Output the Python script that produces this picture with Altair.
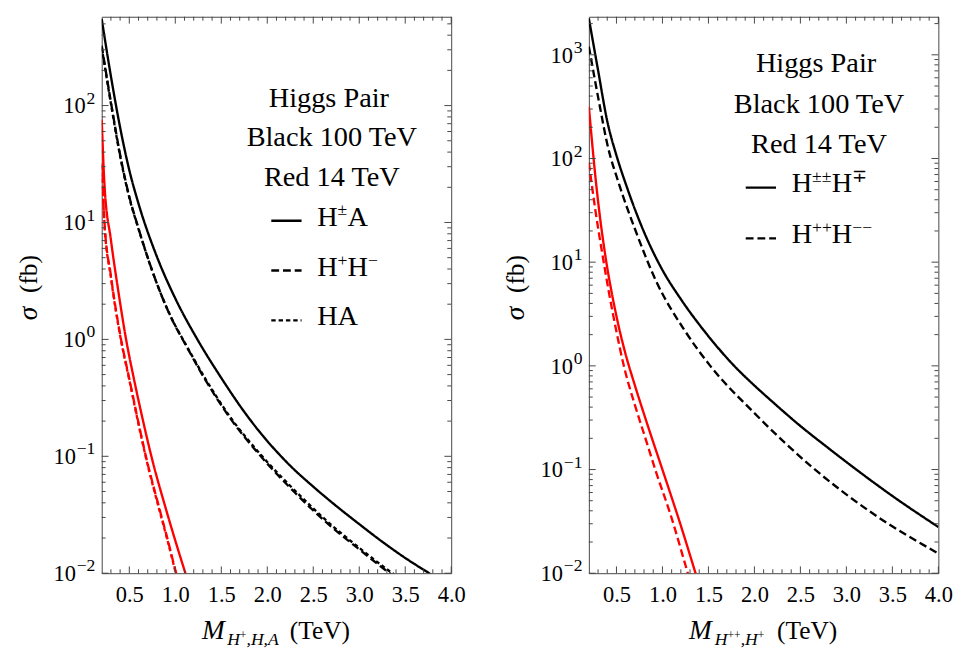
import altair as alt
import pandas as pd

FONT = "Liberation Serif"

# ---------------- data (M in TeV, sigma in fb) ----------------
# Left panel, 100 TeV (black)
L_BLK_HA_PM_M = [0.2, 0.3, 0.4, 0.5, 0.6, 0.8, 1.0, 1.24, 1.5, 1.75, 2.0, 2.12, 2.25, 2.5, 2.75, 3.0, 3.25, 3.5, 3.76, 4.0]
L_BLK_HA_PM_S = [550, 178, 65, 28, 14.5, 5.1, 2.24, 1.0, 0.468, 0.24, 0.135, 0.106, 0.083, 0.055, 0.0376, 0.0263, 0.0186, 0.0135, 0.010, 0.0076]

L_BLK_HPHM_M = [0.2, 0.3, 0.4, 0.5, 0.6, 0.8, 1.0, 1.08, 1.32, 1.6, 1.93, 2.3, 2.67, 3.0, 3.33, 4.0]
L_BLK_HPHM_S = [325, 107, 38, 16.6, 8.9, 3.0, 1.3, 1.0, 0.46, 0.21, 0.10, 0.049, 0.026, 0.016, 0.010, 0.0045]

L_BLK_HA_M = [0.2, 0.3, 0.4, 0.5, 0.6, 0.8, 1.0, 1.08, 1.32, 1.6, 1.93, 2.3, 2.67, 3.0, 3.33, 4.0]
L_BLK_HA_S = [315, 104, 37, 16.3, 8.8, 3.0, 1.31, 1.01, 0.47, 0.215, 0.103, 0.051, 0.027, 0.0165, 0.0104, 0.0047]

# Left panel, 14 TeV (red)
L_RED_HA_PM_M = [0.2, 0.23, 0.3, 0.38, 0.465, 0.55, 0.65, 0.74, 0.9, 1.0, 1.11, 1.2]
L_RED_HA_PM_S = [76, 21, 7.1, 2.6, 1.0, 0.46, 0.20, 0.10, 0.035, 0.019, 0.010, 0.006]

L_RED_HPHM_M = [0.2, 0.23, 0.3, 0.41, 0.5, 0.59, 0.68, 0.83, 0.92, 1.01, 1.1]
L_RED_HPHM_S = [32, 10, 3.5, 1.0, 0.46, 0.21, 0.10, 0.035, 0.019, 0.010, 0.006]

L_RED_HA_M = [0.2, 0.23, 0.3, 0.41, 0.5, 0.59, 0.68, 0.83, 0.92, 1.01, 1.1]
L_RED_HA_S = [31, 9.8, 3.4, 0.98, 0.45, 0.205, 0.098, 0.034, 0.0185, 0.0098, 0.0059]

# Right panel, 100 TeV (black)
R_BLK_PPM_M = [0.2, 0.3, 0.4, 0.5, 0.61, 0.8, 1.0, 1.2, 1.46, 1.78, 2.0, 2.2, 2.5, 2.8, 3.13, 3.5, 4.0]
R_BLK_PPM_S = [2240, 710, 229, 107, 54, 19.5, 8.4, 4.4, 2.14, 1.0, 0.646, 0.447, 0.263, 0.162, 0.0966, 0.0556, 0.0279]

R_BLK_PPMM_M = [0.2, 0.32, 0.4, 0.53, 0.7, 0.93, 1.25, 1.52, 2.0, 2.63, 3.3, 4.0]
R_BLK_PPMM_S = [1200, 316, 138, 56, 21, 6.6, 2.14, 1.0, 0.35, 0.105, 0.037, 0.0155]

# Right panel, 14 TeV (red)
R_RED_PPM_M = [0.2, 0.28, 0.39, 0.45, 0.52, 0.6, 0.7, 0.85, 1.03, 1.2, 1.36, 1.45]
R_RED_PPM_S = [316, 56, 10, 5.0, 2.5, 1.29, 0.65, 0.25, 0.083, 0.0288, 0.010, 0.0055]

R_RED_PPMM_M = [0.2, 0.27, 0.35, 0.42, 0.5, 0.58, 0.7, 0.8, 0.93, 1.1, 1.25, 1.35]
R_RED_PPMM_S = [91, 32, 11.5, 5.0, 2.14, 1.0, 0.42, 0.22, 0.095, 0.034, 0.012, 0.006]

# axis tick values and tick labels
X_MAJOR = [0.5, 1.0, 1.5, 2.0, 2.5, 3.0, 3.5, 4.0]
X_MINOR = [0.3, 0.4, 0.6, 0.7, 0.8, 0.9, 1.1, 1.2, 1.3, 1.4, 1.6, 1.7, 1.8, 1.9,
           2.1, 2.2, 2.3, 2.4, 2.6, 2.7, 2.8, 2.9, 3.1, 3.2, 3.3, 3.4, 3.6, 3.7, 3.8, 3.9]
Y_MAJOR_LEFT = [0.01, 0.1, 1, 10, 100]
Y_EXP_LEFT = ["−2", "−1", "0", "1", "2"]
Y_MAJOR_RIGHT = [0.01, 0.1, 1, 10, 100, 1000]
Y_EXP_RIGHT = ["−2", "−1", "0", "1", "2", "3"]

W, H = 358, 570
TICK_COLOR = "#444"


def curves_df(curves):
    rows = []
    for name, ms, ss, color, dash in curves:
        for m, s in zip(ms, ss):
            rows.append({"M": m, "sigma": s, "series": name, "color": color, "dash": dash})
    return pd.DataFrame(rows)


DUMMY = pd.DataFrame({"a": [0]})


def text(t, x, y, size=29, align="left", style="normal", angle=0):
    kw = dict(text=t, font=FONT, fontSize=size, align=align, baseline="alphabetic",
              fontStyle=style, color="black")
    if angle:
        kw["angle"] = angle
    return alt.Chart(DUMMY).mark_text(**kw).encode(x=alt.value(x), y=alt.value(y))


def sample(x1, x2, y, dash):
    return alt.Chart(DUMMY).mark_rule(color="black", strokeWidth=2.5, strokeDash=dash).encode(
        x=alt.value(x1), x2=alt.value(x2), y=alt.value(y))


def panel(df, y_max, y_major, y_exp, extra):
    xs = alt.Scale(domain=[0.2, 4.0], nice=False, zero=False)
    ys = alt.Scale(type="log", domain=[0.01, y_max], nice=False)
    y_minor = [k * 10.0 ** e for e in range(-2, 4) for k in range(2, 10) if k * 10.0 ** e < y_max]

    lines = alt.Chart(df).mark_line(clip=True, strokeWidth=2.4, interpolate="monotone").encode(
        x=alt.X("M:Q", scale=xs, axis=alt.Axis(
            orient="bottom", values=X_MAJOR, format=".1f", ticks=False, tickSize=0, domain=False,
            grid=False, labelFont=FONT, labelFontSize=23, labelColor="black", labelPadding=11,
            labelFlush=False, labelOverlap=False, title=None)),
        y=alt.Y("sigma:Q", scale=ys, axis=None),
        color=alt.Color("color:N", scale=None),
        strokeDash=alt.StrokeDash("dash:N", scale=alt.Scale(
            domain=["solid", "dashed", "dotted"], range=[[1, 0], [8, 4], [4, 3]]), legend=None),
        detail="series:N",
    )

    def xticks(values, size):
        d = pd.DataFrame({"M": values})
        bottom = alt.Chart(d).mark_rule(color=TICK_COLOR, strokeWidth=1).encode(
            x=alt.X("M:Q", scale=xs), y=alt.value(H), y2=alt.value(H - size))
        top = alt.Chart(d).mark_rule(color=TICK_COLOR, strokeWidth=1).encode(
            x=alt.X("M:Q", scale=xs), y=alt.value(0), y2=alt.value(size))
        return [bottom, top]

    def yticks(values, size):
        d = pd.DataFrame({"sigma": values})
        left_t = alt.Chart(d).mark_rule(color=TICK_COLOR, strokeWidth=1).encode(
            y=alt.Y("sigma:Q", scale=ys), x=alt.value(0), x2=alt.value(size))
        right_t = alt.Chart(d).mark_rule(color=TICK_COLOR, strokeWidth=1).encode(
            y=alt.Y("sigma:Q", scale=ys), x=alt.value(W), x2=alt.value(W - size))
        return [left_t, right_t]

    # y tick labels: "10" with a raised exponent
    lab = pd.DataFrame({"sigma": y_major, "exp": y_exp})
    exp_marks = alt.Chart(lab).mark_text(
        font=FONT, fontSize=18, align="right", baseline="alphabetic", dy=-2, color="black"
    ).encode(y=alt.Y("sigma:Q", scale=ys), x=alt.value(-6.5), text="exp:N")
    base_neg = alt.Chart(lab[lab["sigma"] < 1]).mark_text(
        text="10", font=FONT, fontSize=23, align="right", baseline="alphabetic", dy=8, color="black"
    ).encode(y=alt.Y("sigma:Q", scale=ys), x=alt.value(-26.5))
    base_pos = alt.Chart(lab[lab["sigma"] >= 1]).mark_text(
        text="10", font=FONT, fontSize=23, align="right", baseline="alphabetic", dy=8, color="black"
    ).encode(y=alt.Y("sigma:Q", scale=ys), x=alt.value(-16.3))

    layers = ([lines] + xticks(X_MAJOR, 7) + xticks(X_MINOR, 4)
              + yticks(y_major, 7) + yticks(y_minor, 4)
              + [exp_marks, base_neg, base_pos] + extra)
    return alt.layer(*layers).properties(width=W, height=H)


left_df = curves_df([
    ("L_red_HA", L_RED_HA_M, L_RED_HA_S, "red", "dotted"),
    ("L_red_HpHm", L_RED_HPHM_M, L_RED_HPHM_S, "red", "dashed"),
    ("L_red_HApm", L_RED_HA_PM_M, L_RED_HA_PM_S, "red", "solid"),
    ("L_blk_HA", L_BLK_HA_M, L_BLK_HA_S, "black", "dotted"),
    ("L_blk_HpHm", L_BLK_HPHM_M, L_BLK_HPHM_S, "black", "dashed"),
    ("L_blk_HApm", L_BLK_HA_PM_M, L_BLK_HA_PM_S, "black", "solid"),
])

right_df = curves_df([
    ("R_red_ppmm", R_RED_PPMM_M, R_RED_PPMM_S, "red", "dashed"),
    ("R_red_ppm", R_RED_PPM_M, R_RED_PPM_S, "red", "solid"),
    ("R_blk_ppmm", R_BLK_PPMM_M, R_BLK_PPMM_S, "black", "dashed"),
    ("R_blk_ppm", R_BLK_PPM_M, R_BLK_PPM_S, "black", "solid"),
])

SUP = 18   # superscript size
RAISE = 11

left_extra = [
    text("Higgs Pair", 232.7, 92, align="center"),
    text("Black 100 TeV", 235.7, 132, align="center"),
    text("Red 14 TeV", 235.7, 173, align="center"),
    sample(173.7, 204.7, 209, [1, 0]),
    text("H", 220.7, 214), text("±", 241.6, 214 - RAISE, SUP), text("A", 251.8, 214),
    sample(173.7, 204.7, 260, [8, 4]),
    text("H", 220.7, 266), text("+", 241.6, 266 - RAISE, SUP), text("H", 251.8, 266),
    text("−", 272.7, 266 - RAISE, SUP),
    sample(173.7, 204.7, 311, [4.5, 3]),
    text("HA", 220.7, 316),
    # x title
    text("M", 102.7, 637, 28, style="italic"),
    text("H", 128.5, 644, 18, style="italic"),
    text("+", 141.5, 637, 12),
    text(",H,A", 148.3, 644, 18, style="italic"),
    text("(TeV)", 192.7, 637, 26),
    # y title
    text("σ", -66.3, 311, 28, style="italic", angle=270),
    text("(fb)", -66.3, 283, 26, angle=270),
]

right_extra = [
    text("Higgs Pair", 232.7, 57, align="center"),
    text("Black 100 TeV", 235.7, 99, align="center"),
    text("Red 14 TeV", 235.7, 140, align="center"),
    sample(160.7, 191.7, 175, [1, 0]),
    text("H", 207.7, 180), text("±±", 228.6, 180 - RAISE, SUP), text("H", 248.9, 180),
    text("∓", 269.8, 180 - RAISE, SUP),
    sample(160.7, 191.7, 227, [8, 4]),
    text("H", 207.7, 232), text("++", 228.6, 232 - RAISE, SUP), text("H", 248.9, 232),
    text("−−", 269.8, 232 - RAISE, SUP),
    # x title
    text("M", 102.7, 637, 28, style="italic"),
    text("H", 129.0, 644, 18, style="italic"),
    text("++", 142.0, 637, 12),
    text(",H", 155.5, 644, 18, style="italic"),
    text("+", 173.0, 637, 12),
    text("(TeV)", 192.7, 637, 26),
    # y title
    text("σ", -66.3, 311, 28, style="italic", angle=270),
    text("(fb)", -66.3, 283, 26, angle=270),
]

left = panel(left_df, 575, Y_MAJOR_LEFT, Y_EXP_LEFT, left_extra)
right = panel(right_df, 2328, Y_MAJOR_RIGHT, Y_EXP_RIGHT, right_extra)

chart = alt.hconcat(left, right, spacing=37).properties(
    padding={"left": 7, "top": 0, "right": 0, "bottom": 5}
).configure_view(stroke="#444", strokeWidth=1).configure_axis(
    labelFont=FONT, labelFontSize=23, labelColor="black"
)

chart.save("out.html", embed_options={"renderer": "svg", "actions": False})
